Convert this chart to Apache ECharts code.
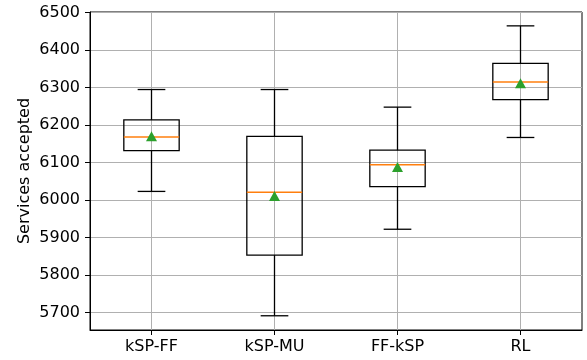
<!DOCTYPE html>
<html>
<head>
<meta charset="utf-8">
<script src="https://cdn.jsdelivr.net/npm/echarts@6/dist/echarts.min.js"></script>
<style>
  html, body { margin: 0; padding: 0; background: #fff; }
  #chart { width: 587px; height: 360px; }
</style>
</head>
<body>
<div id="chart"></div>
<script>
// Routing strategies compared
const categories = ['kSP-FF', 'kSP-MU', 'FF-kSP', 'RL'];
// Five-number summaries per strategy
const whiskerLow  = [6023, 5691, 5922, 6167];
const quartile1   = [6132, 5853, 6036, 6268];
const medians     = [6168, 6021, 6094, 6315];
const quartile3   = [6214, 6170, 6133, 6365];
const whiskerHigh = [6295, 6295, 6248, 6465];
// Mean number of accepted services
const means       = [6170, 6011, 6088, 6312];
// Y tick values
const yTicks = [5700, 5800, 5900, 6000, 6100, 6200, 6300, 6400, 6500];
const xTicks = categories.map((_, i) => i);

const FONT = 'DejaVu Sans';
const BOX_W = 0.45;

const boxData = categories.map((_, i) => [i, whiskerLow[i], quartile1[i], medians[i], quartile3[i], whiskerHigh[i]]);
const meanData = categories.map((_, i) => [i, means[i]]);

function renderBox(params, api) {
  const x = api.value(0);
  const lo = api.coord([x, api.value(1)]);
  const q1 = api.coord([x, api.value(2)]);
  const md = api.coord([x, api.value(3)]);
  const q3 = api.coord([x, api.value(4)]);
  const hi = api.coord([x, api.value(5)]);
  const w = api.size([BOX_W, 0])[0];
  const cx = lo[0];
  const half = w / 2;
  const cap = w / 4;
  const stroke = { stroke: '#000', lineWidth: 1.3, fill: null };
  return {
    type: 'group',
    children: [
      { type: 'line', shape: { x1: cx, y1: q1[1], x2: cx, y2: lo[1] }, style: stroke },
      { type: 'line', shape: { x1: cx, y1: q3[1], x2: cx, y2: hi[1] }, style: stroke },
      { type: 'line', shape: { x1: cx - cap, y1: lo[1], x2: cx + cap, y2: lo[1] }, style: stroke },
      { type: 'line', shape: { x1: cx - cap, y1: hi[1], x2: cx + cap, y2: hi[1] }, style: stroke },
      { type: 'rect', shape: { x: cx - half, y: q3[1], width: w, height: q1[1] - q3[1] }, style: { stroke: '#000', lineWidth: 1.3, fill: 'none' } },
      { type: 'line', shape: { x1: cx - half, y1: md[1], x2: cx + half, y2: md[1] }, style: { stroke: '#ff7f0e', lineWidth: 1.5 } }
    ]
  };
}

const chart = echarts.init(document.getElementById('chart'), null, { renderer: 'canvas' });
chart.setOption({
  animation: false,
  backgroundColor: '#fff',
  grid: {
    left: 90, right: 5, top: 12, bottom: 30,
    show: true, borderColor: '#000', borderWidth: 1, backgroundColor: 'transparent'
  },
  xAxis: {
    type: 'value',
    min: -0.5, max: 3.5,
    axisLine: { show: true, onZero: false, lineStyle: { color: '#000', width: 1 } },
    axisTick: { show: true, inside: false, length: 5, lineStyle: { color: '#000' }, customValues: xTicks },
    axisLabel: {
      customValues: xTicks,
      formatter: v => categories[Math.round(v)],
      color: '#000', fontFamily: FONT, fontSize: 16, margin: 9
    },
    splitLine: { show: true, lineStyle: { color: '#b0b0b0', width: 1 } }
  },
  yAxis: {
    type: 'value',
    min: 5653, max: 6502,
    name: 'Services accepted',
    nameLocation: 'middle',
    nameRotate: 90,
    nameGap: 57,
    nameMoveOverlap: false,
    nameTextStyle: { color: '#000', fontFamily: FONT, fontSize: 16 },
    axisLine: { show: true, onZero: false, lineStyle: { color: '#000', width: 1 } },
    axisTick: { show: true, inside: false, length: 5, lineStyle: { color: '#000' }, customValues: yTicks },
    axisLabel: {
      customValues: yTicks,
      formatter: v => String(v),
      color: '#000', fontFamily: FONT, fontSize: 16, margin: 10
    },
    splitLine: { show: true, lineStyle: { color: '#b0b0b0', width: 1 } }
  },
  series: [
    {
      type: 'custom',
      renderItem: renderBox,
      data: boxData,
      encode: { x: 0, y: [1, 2, 3, 4, 5] },
      z: 3
    },
    {
      type: 'scatter',
      data: meanData,
      symbol: 'triangle',
      symbolSize: [11, 10],
      itemStyle: { color: '#2ca02c', opacity: 1 },
      z: 4
    }
  ]
});
</script>
</body>
</html>
